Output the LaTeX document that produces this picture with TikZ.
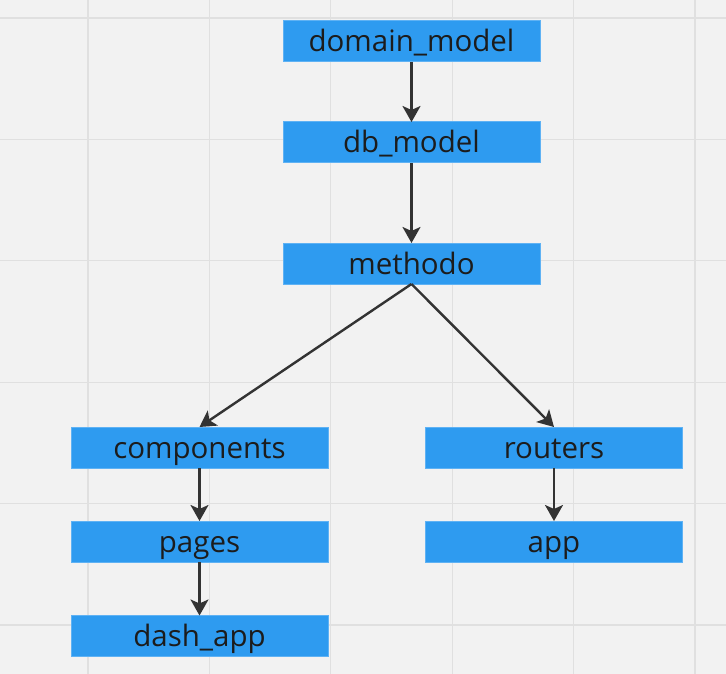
\documentclass[tikz,border=0pt]{standalone}
\usepackage{fontspec}
\setmainfont{Open Sans}
\usetikzlibrary{arrows.meta}
\definecolor{boardbg}{HTML}{F2F2F2}
\definecolor{gridline}{HTML}{E0E0E0}
\definecolor{boxblue}{HTML}{2E9BF0}
\definecolor{boxedge}{HTML}{5FB2F4}
\definecolor{inkdark}{HTML}{1C1C1C}
\definecolor{arrowgray}{HTML}{333333}
\begin{document}
\begin{tikzpicture}[x=1pt,y=1pt,
	modbox/.style={fill=boxblue, draw=boxedge, line width=1pt, minimum width=257pt, minimum height=41pt,
		inner sep=0pt, outer sep=0pt, text height=25pt, text depth=4pt,
		text=inkdark, font=\fontsize{29.5}{33}\selectfont},
	dep/.style={draw=arrowgray, line width=2.4pt, -{Stealth[length=16pt,width=18pt,inset=4pt]}}]
	\useasboundingbox (0,0) rectangle (726,-674);
	\fill[boardbg] (0,0) rectangle (726,-674);
	\foreach \k in {0,...,5} {
		\draw[gridline, line width=1.2pt] ({88+121.4*\k},0) -- ({88+121.4*\k},-674);
		\draw[gridline, line width=1.2pt] (0,{-18-121.4*\k}) -- (726,{-18-121.4*\k});
	}
	
		\node[modbox] (D) at (411.5,-41.5) {domain\_model};
		\node[modbox] (B) at (411.5,-142.5) {db\_model};
		\node[modbox] (M) at (411.5,-263.5) {methodo};
			\node[modbox] (C) at (199.5,-447.5) {components};
				\node[modbox] (P) at (199.5,-541.5) {pages};
				\node[modbox] (S) at (199.5,-636) {dash\_app};
			\node[modbox] (R) at (554,-447.5) {routers};
				\node[modbox] (A) at (554,-541.5) {app};
	
		\draw[dep] (D) -- (B);
		\draw[dep] (B) -- (M);
		\draw[dep] (M.south) -- (C.north);
		\draw[dep] (M.south) -- (R.north);
			\draw[dep] (C) -- (P);
			\draw[dep] (P) -- (S);
			\draw[dep] (R) -- (A);
\end{tikzpicture}
\end{document}
